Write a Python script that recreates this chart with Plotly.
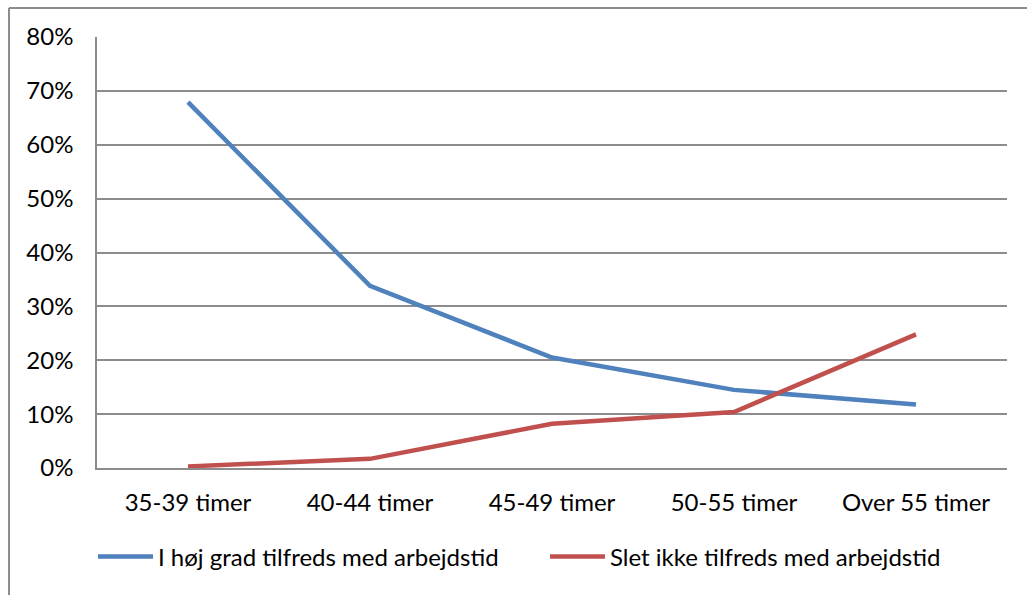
import plotly.graph_objects as go

categories = ["35-39 timer", "40-44 timer", "45-49 timer", "50-55 timer", "Over 55 timer"]
hoej_grad = [0.679, 0.338, 0.205, 0.145, 0.118]
slet_ikke = [0.003, 0.017, 0.082, 0.104, 0.248]
series_names = ["I høj grad tilfreds med arbejdstid", "Slet ikke tilfreds med arbejdstid"]
y_ticks = [0, 0.1, 0.2, 0.3, 0.4, 0.5, 0.6, 0.7, 0.8]
y_ticklabels = ["0%", "10%", "20%", "30%", "40%", "50%", "60%", "70%", "80%"]

W, H = 1027, 595
L, R, T, B = 97, 1007, 37, 468

fig = go.Figure()
fig.add_trace(go.Scatter(x=categories, y=hoej_grad, mode="lines", name=series_names[0],
                         line=dict(color="#4F81BD", width=4.5), legend="legend"))
fig.add_trace(go.Scatter(x=categories, y=slet_ikke, mode="lines", name=series_names[1],
                         line=dict(color="#C0504D", width=4.5), legend="legend2"))

font = dict(family="Lato, Open Sans, sans-serif", size=24, color="#000000")

def fy(px):
    return (H - px) / H

def fx(px):
    return px / W

leg_common = dict(orientation="v", yanchor="middle", y=fy(557), xanchor="left",
                  font=font, itemwidth=55, bgcolor="rgba(0,0,0,0)", borderwidth=0)

fig.update_layout(
    width=W, height=H,
    margin=dict(l=0, r=0, t=0, b=0, pad=0, autoexpand=False),
    paper_bgcolor="white", plot_bgcolor="white",
    font=font,
    showlegend=True,
    legend=dict(x=fx(93), **leg_common),
    legend2=dict(x=fx(545), **leg_common),
    xaxis=dict(type="category", range=[-0.5, 4.5], domain=[fx(L), fx(R)], showgrid=False,
               showline=True, linecolor="#8C8C8C", linewidth=1.5, ticks="", tickfont=font,
               ticklabelstandoff=12, fixedrange=True),
    yaxis=dict(range=[0, 0.8], domain=[fy(B), fy(T)], tickvals=y_ticks, ticktext=y_ticklabels,
               showgrid=True, gridcolor="#8C8C8C", gridwidth=1.5, showline=True,
               linecolor="#8C8C8C", linewidth=1.5, ticks="", tickfont=font, zeroline=False,
               fixedrange=True, ticklabelstandoff=17),
)

# outer chart frame: top and left edges (the rest lies outside the window)
frame = dict(color="#8C8C8C", width=2)
fig.add_shape(type="line", xref="paper", yref="paper",
              x0=fx(9), x1=1.01, y0=fy(8), y1=fy(8), line=frame, layer="above")
fig.add_shape(type="line", xref="paper", yref="paper",
              x0=fx(9), x1=fx(9), y0=fy(8), y1=-0.01, line=frame, layer="above")

fig.write_html("out.html")
